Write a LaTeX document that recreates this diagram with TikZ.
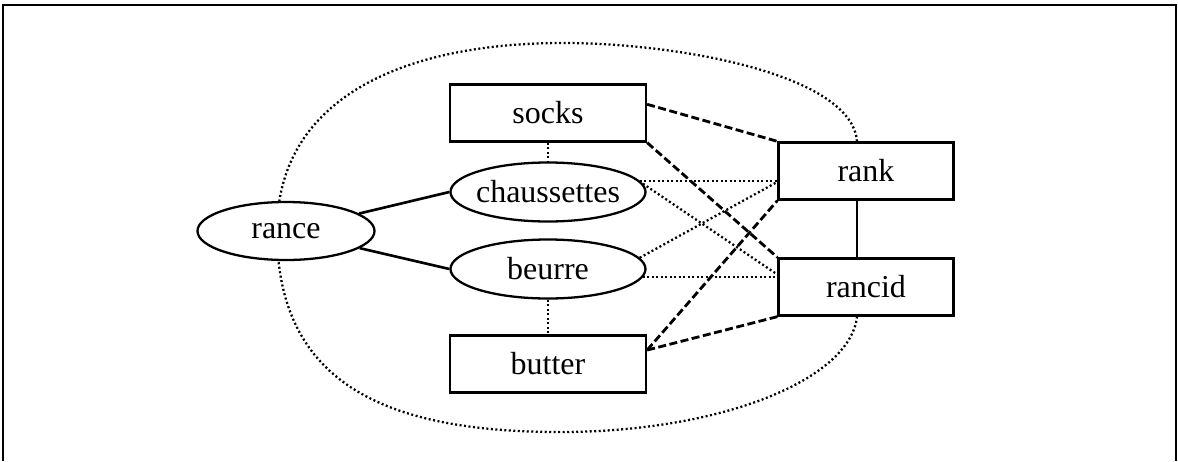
\documentclass[tikz,border=0pt]{standalone}
\usepackage{fontspec}
\setmainfont{Liberation Serif}
\usetikzlibrary{shapes.geometric}

\begin{document}
\begin{tikzpicture}[x=0.2mm,y=-0.2mm]
	\tikzstyle{english}=[
		rectangle, draw, fill=white, line width=1.3pt,
		inner sep=0pt, minimum width=39.2mm, minimum height=11.4mm,
		font=\fontsize{18.2}{22}\selectfont
	]
	\tikzstyle{french}=[
		ellipse, draw, fill=white, line width=1.3pt,
		inner sep=0pt, minimum width=39mm, minimum height=11.8mm,
		font=\fontsize{18.2}{22}\selectfont
	]
	\tikzstyle{link}=[-,draw,line width=1.5pt]
	\tikzstyle{trans}=[-,draw,line width=1.6pt,dash pattern=on 1.6mm off 0.7mm]
	\tikzstyle{assoc}=[-,draw,line width=1.3pt,dash pattern=on 0.4mm off 0.5mm]
	\useasboundingbox (0,0) rectangle (1178,461);
	\draw[line width=1.5pt] (3,461) -- (3,5) -- (1176,5) -- (1176,461);
	\node[english, minimum width=35mm] (rank) at (866,171) {rank};
	\node[english, minimum width=35mm] (rancid) at (866,287) {rancid};
	\coordinate (top) at ([xshift=-1.8mm]rank.north);
	\coordinate (bottom) at ([xshift=-1.8mm]rancid.south);
	\draw (top) .. controls (852,75) and (680,43) .. (563,43)
		.. controls (400,43) and (277,100) .. (277,231)
		.. controls (277,380) and (380,432) .. (560,432)
		.. controls (720,432) and (850,380) .. (bottom) [assoc];
	\node[english] (socks) at (548,113) {socks};
	\node[french, inner xsep=-1.5mm] (chaussettes) at (548,192) {chaussettes};
	\node[french] (beurre) at (548,269) {beurre};
	\node[english] (butter) at (548,364) {butter};
	\node[french, minimum width=35.4mm, minimum height=11.6mm] (rance) at (286,231) {rance};
	\draw (rance) to (chaussettes.west) [link];
	\draw (rance) to (beurre.west) [link];
	\draw ([xshift=-1.8mm]rank.south) to ([xshift=-1.8mm]rancid.north) [link,line width=1.3pt];
	\draw (socks) to (chaussettes) [assoc];
	\draw (beurre) to (butter) [assoc];
	\draw (chaussettes.7) to (chaussettes.7 -| rank.west) [assoc];
	\draw (chaussettes.5) to (rancid.172) [assoc];
	\draw (beurre.7) to (rank.187) [assoc];
	\draw (beurre.-5) to (beurre.-5 -| rancid.west) [assoc];
	\draw (socks.5) to (rank.north west) [trans];
	\draw (socks.south east) to (rancid.north west) [trans];
	\draw (butter.8) to (rank.south west) [trans];
	\draw (butter.8) to (rancid.south west) [trans];
\end{tikzpicture}
\end{document}
